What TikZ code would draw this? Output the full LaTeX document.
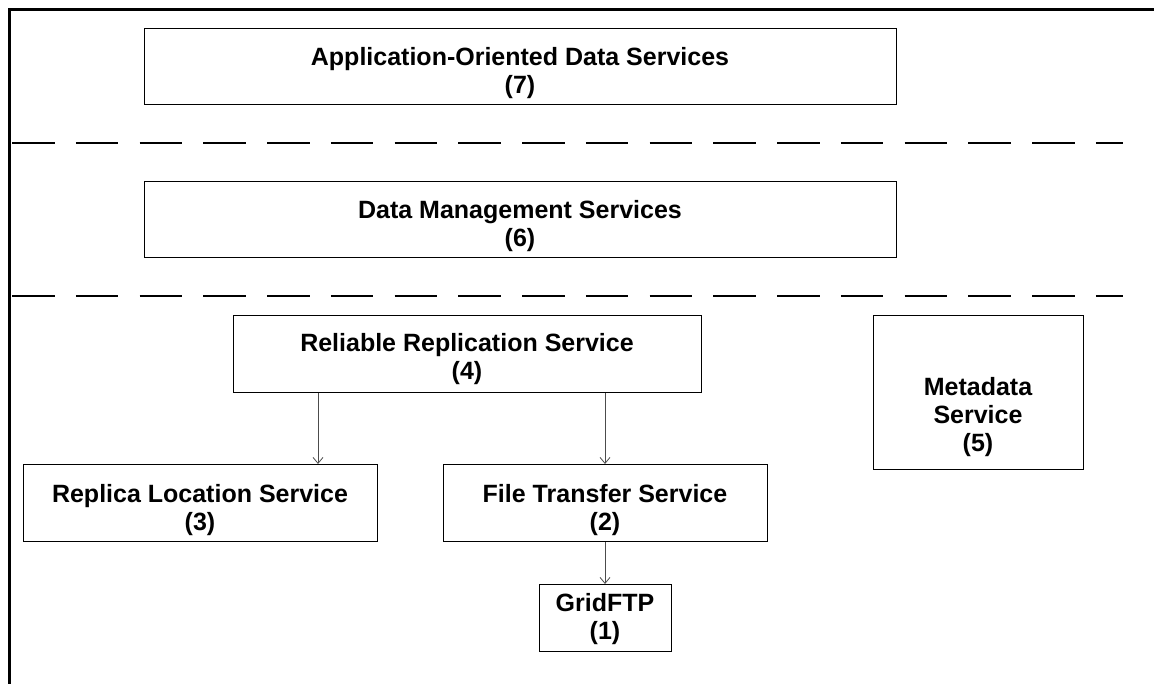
\documentclass[tikz,border=0pt]{standalone}
\usepackage{fontspec}
\setmainfont{Liberation Sans}
\usetikzlibrary{arrows.meta}
\begin{document}
\begin{tikzpicture}[x=1pt,y=-1pt,
  svcbox/.style={draw=black, line width=1pt, inner sep=0pt},
  svctext/.style={align=center, inner sep=0pt,
    font=\bfseries\fontsize{25}{28}\selectfont},
  sep/.style={line width=2.4pt, dash pattern=on 42.5pt off 21.25pt},
  frame/.style={line width=2.6pt},
  arr/.style={draw=black!70, line width=0.8pt, -{Straight Barb[length=6pt,width=10pt]}}]
\useasboundingbox (0,0) rectangle (1154,684);
% outer frame
\draw[frame] (9.5,684) -- (9.5,9.5) -- (1154,9.5);
% layer separators
\draw[sep] (12,143) -- (1123,143);
\draw[sep] (12,296) -- (1123,296);
% boxes
\node[svcbox, minimum width=752pt, minimum height=76pt] (b7) at (520,66.5) {};
\node[svcbox, minimum width=752pt, minimum height=76pt] (b6) at (520,220) {};
\node[svcbox, minimum width=468pt, minimum height=77pt] (b4) at (467,354) {};
\node[svcbox, minimum width=210pt, minimum height=153pt] (b5) at (978,392.5) {};
\node[svcbox, minimum width=354pt, minimum height=77pt] (b3) at (200,503) {};
\node[svcbox, minimum width=324pt, minimum height=77pt] (b2) at (605,503) {};
\node[svcbox, minimum width=132pt, minimum height=67pt] (b1) at (605,618) {};
% texts
\node[svctext, yshift=-7pt] (t7) at (b7.center) {Application-Oriented Data Services\\(7)};
\node[svctext, yshift=-6.5pt] (t6) at (b6.center) {Data Management Services\\(6)};
\node[svctext, yshift=-5pt] (t4) at (b4.center) {Reliable Replication Service\\(4)};
\node[svctext, yshift=-25pt] (t5) at (b5.center) {Metadata\\Service\\(5)};
\node[svctext, yshift=-7pt] (t3) at (b3.center) {Replica Location Service\\(3)};
\node[svctext, yshift=-7pt] (t2) at (b2.center) {File Transfer Service\\(2)};
\node[svctext, yshift=-1pt] (t1) at (b1.center) {GridFTP\\(1)};
% connectors
\coordinate (a3) at (318,0);
\draw[arr] (b4.south -| a3) -- (b3.north -| a3);
\draw[arr] (b4.south -| b2.north) -- (b2.north);
\draw[arr] (b2.south) -- (b1.north);
\end{tikzpicture}
\end{document}
